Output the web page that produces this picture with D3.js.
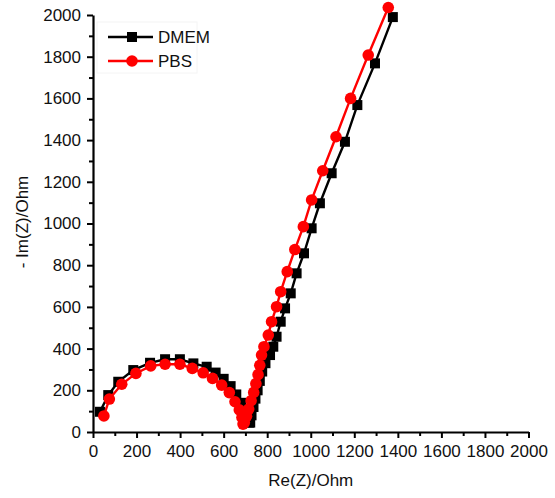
<!DOCTYPE html>
<html>
<head>
<meta charset="utf-8">
<style>
  body { margin: 0; background: #fff; }
  text { font-family: "Liberation Sans", Arial, sans-serif; }
</style>
</head>
<body>
<svg width="555" height="498"></svg>
<script src="https://cdn.jsdelivr.net/npm/d3@7"></script>
<script>
  // series: [Re(Z), -Im(Z)]
  var dmem = [
    [32, 97], [70, 177], [116, 241], [185, 297], [262, 332], [331, 349], [399, 349],
    [461, 329], [522, 313], [563, 285], [600, 255], [632, 220], [658, 180], [680, 140],
    [696, 100], [708, 65], [716, 45], [722, 45], [728, 80], [737, 120], [746, 160],
    [756, 200], [766, 245], [777, 290], [792, 330], [813, 369], [828, 409], [843, 457],
    [862, 529], [882, 593], [908, 665], [935, 761], [969, 857], [1004, 977], [1042, 1097],
    [1096, 1241], [1157, 1392], [1214, 1568], [1295, 1768], [1377, 1990]
  ];
  var pbs = [
    [50, 77], [75, 158], [132, 229], [197, 281], [265, 317], [331, 325], [399, 325],
    [456, 305], [506, 284], [549, 257], [591, 225], [626, 189], [652, 145], [672, 106],
    [684, 70], [689, 38], [695, 45], [705, 75], [715, 110], [726, 150], [738, 190],
    [748, 232], [758, 275], [766, 320], [774, 369], [785, 409], [805, 465], [820, 529],
    [843, 601], [862, 673], [892, 769], [927, 875], [966, 985], [1004, 1113], [1055, 1253],
    [1116, 1416], [1183, 1600], [1264, 1808], [1356, 2036]
  ];
  var legendNames = ["DMEM", "PBS"];
  var majorTicks = d3.range(0, 2001, 200);
  var minorTicks = d3.range(100, 2000, 200);

  var svg = d3.select("svg");
  var plotLeft = 93, plotRight = 528.5, plotTop = 15, plotBottom = 432;

  var x = d3.scaleLinear().domain([0, 2000]).range([plotLeft, plotRight]);
  var y = d3.scaleLinear().domain([0, 2000]).range([plotBottom, plotTop]);
  var fmt = d3.format("d");

  // axes
  var gx = svg.append("g").attr("transform", "translate(0," + plotBottom + ")");
  gx.call(d3.axisBottom(x).tickValues(majorTicks).tickFormat(fmt).tickSize(6).tickPadding(7).tickSizeOuter(0));
  gx.append("g").call(d3.axisBottom(x).tickValues(minorTicks).tickSize(4).tickFormat(""))
    .select(".domain").remove();

  var gy = svg.append("g").attr("transform", "translate(" + plotLeft + ",0)");
  gy.call(d3.axisLeft(y).tickValues(majorTicks).tickFormat(fmt).tickSize(6).tickPadding(6).tickSizeOuter(0));
  gy.append("g").call(d3.axisLeft(y).tickValues(minorTicks).tickSize(4).tickFormat(""))
    .select(".domain").remove();

  svg.selectAll(".domain").attr("stroke", "#000").attr("stroke-width", 2.2);
  svg.selectAll(".tick line").attr("stroke", "#000").attr("stroke-width", 2);
  svg.selectAll(".tick text").attr("font-size", "17px").attr("fill", "#111")
    .attr("font-family", "'Liberation Sans', Arial, sans-serif");

  // axis titles
  svg.append("text")
    .attr("x", (plotLeft + plotRight) / 2)
    .attr("y", 486)
    .attr("text-anchor", "middle")
    .attr("font-size", "17px")
    .attr("fill", "#111")
    .text("Re(Z)/Ohm");

  svg.append("text")
    .attr("transform", "translate(28," + 222 + ") rotate(-90)")
    .attr("text-anchor", "middle")
    .attr("font-size", "17px")
    .attr("fill", "#111")
    .text("- Im(Z)/Ohm");

  var line = d3.line().x(function (d) { return x(d[0]); }).y(function (d) { return y(d[1]); });

  // DMEM
  svg.append("path").datum(dmem)
    .attr("d", line).attr("fill", "none").attr("stroke", "#000").attr("stroke-width", 2.4);
  svg.append("g").selectAll("rect").data(dmem).enter().append("rect")
    .attr("x", function (d) { return x(d[0]) - 5; })
    .attr("y", function (d) { return y(d[1]) - 5; })
    .attr("width", 10).attr("height", 10)
    .attr("fill", "#000");

  // PBS
  svg.append("path").datum(pbs)
    .attr("d", line).attr("fill", "none").attr("stroke", "#ff0000").attr("stroke-width", 2.4);
  svg.append("g").selectAll("circle").data(pbs).enter().append("circle")
    .attr("cx", function (d) { return x(d[0]); })
    .attr("cy", function (d) { return y(d[1]); })
    .attr("r", 5.8)
    .attr("fill", "#ff0000");

  // legend
  var legend = svg.append("g");
  legend.append("rect")
    .attr("x", 97).attr("y", 22).attr("width", 100).attr("height", 51)
    .attr("fill", "none").attr("stroke", "#f4f4f4");
  var items = legend.selectAll("g.item").data(legendNames).enter().append("g")
    .attr("class", "item")
    .attr("transform", function (d, i) { return "translate(0," + (37 + i * 24) + ")"; });
  items.append("line")
    .attr("x1", 108).attr("x2", 153)
    .attr("stroke", function (d, i) { return i ? "#ff0000" : "#000"; })
    .attr("stroke-width", 2.4);
  items.filter(function (d, i) { return i === 0; }).append("rect")
    .attr("x", 127).attr("y", -5).attr("width", 10).attr("height", 10).attr("fill", "#000");
  items.filter(function (d, i) { return i === 1; }).append("circle")
    .attr("cx", 132).attr("r", 5.8).attr("fill", "#ff0000");
  items.append("text")
    .attr("x", 158).attr("dy", "0.36em")
    .attr("font-size", "17px").attr("fill", "#111")
    .text(function (d) { return d; });
</script>
</body>
</html>
